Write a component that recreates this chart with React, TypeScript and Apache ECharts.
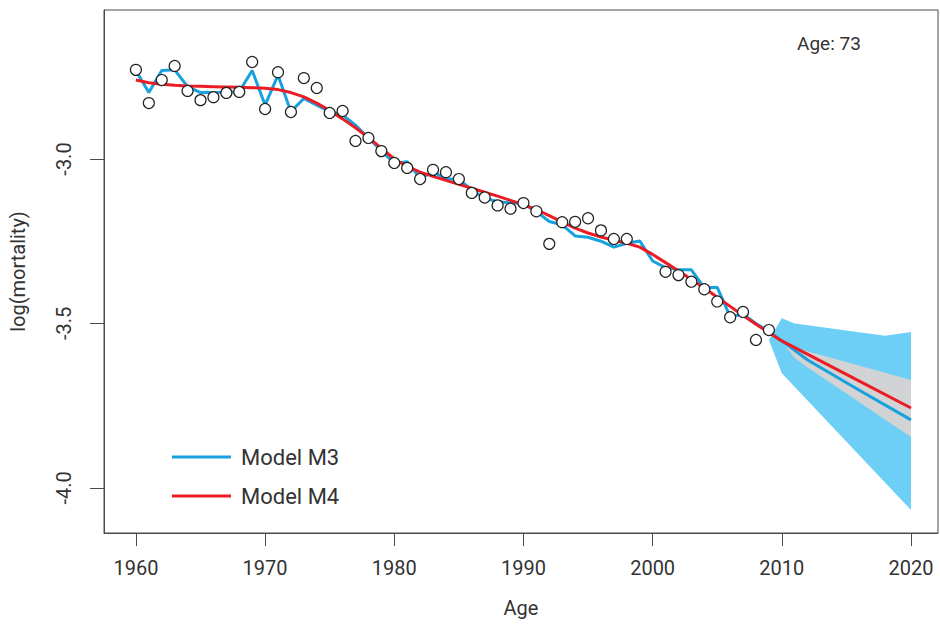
import React, { useEffect, useRef } from "react";
import * as echarts from "echarts";

// Observed log mortality at age 73, by calendar year (null = no point shown)
const obsYears = [
  1960, 1961, 1962, 1963, 1964, 1965, 1966, 1967, 1968, 1969,
  1970, 1971, 1972, 1973, 1974, 1975, 1976, 1977, 1978, 1979,
  1980, 1981, 1982, 1983, 1984, 1985, 1986, 1987, 1988, 1989,
  1990, 1991, 1992, 1993, 1994, 1995, 1996, 1997, 1998, 1999,
  2000, 2001, 2002, 2003, 2004, 2005, 2006, 2007, 2008, 2009,
];
const observed: (number | null)[] = [
  -2.729, -2.83, -2.76, -2.717, -2.793, -2.821, -2.812, -2.799, -2.796, -2.705,
  -2.848, -2.736, -2.857, -2.754, -2.784, -2.86, -2.854, -2.945, -2.936, -2.976,
  -3.012, -3.027, -3.061, -3.033, -3.04, -3.061, -3.103, -3.117, -3.141, -3.151,
  -3.134, -3.159, -3.258, -3.192, -3.191, -3.18, -3.217, -3.243, -3.243, null,
  null, -3.343, -3.353, -3.373, -3.396, -3.433, -3.481, -3.465, -3.55, -3.52,
];

// Model M3 fitted values (same years as obsYears)
const m3Fitted = [
  -2.731, -2.798, -2.731, -2.729, -2.78, -2.798, -2.798, -2.797, -2.795, -2.731,
  -2.836, -2.745, -2.856, -2.816, -2.836, -2.856, -2.866, -2.897, -2.936, -2.975,
  -3.013, -3.008, -3.059, -3.039, -3.06, -3.062, -3.094, -3.119, -3.13, -3.133,
  -3.135, -3.16, -3.19, -3.2, -3.234, -3.238, -3.25, -3.268, -3.256, -3.249,
  -3.31, -3.33, -3.337, -3.337, -3.392, -3.39, -3.479, -3.472, -3.5, -3.525,
];
// Model M4 fitted values (same years as obsYears)
const m4Fitted = [
  -2.76, -2.768, -2.773, -2.776, -2.778, -2.779, -2.78, -2.781, -2.782, -2.783,
  -2.785, -2.789, -2.798, -2.811, -2.83, -2.853, -2.878, -2.905, -2.935, -2.967,
  -3.0, -3.022, -3.04, -3.053, -3.065, -3.077, -3.089, -3.101, -3.113, -3.126,
  -3.139, -3.154, -3.172, -3.192, -3.21, -3.225, -3.237, -3.247, -3.256, -3.268,
  -3.29, -3.315, -3.34, -3.366, -3.392, -3.42, -3.448, -3.476, -3.502, -3.528,
];

// Central projections
const m3ForecastYears = [2010, 2012, 2016, 2020];
const m3Forecast = [-3.553, -3.611, -3.703, -3.793];
const m4ForecastYears = [2010, 2015, 2020];
const m4Forecast = [-3.553, -3.655, -3.757];

// Prediction intervals: upper and lower edges as [year, value]
const m3BandUpper: [number, number][] = [
  [2009, -3.55], [2010, -3.484], [2011, -3.5], [2018, -3.537], [2020, -3.526],
];
const m3BandLower: [number, number][] = [
  [2009, -3.55], [2010, -3.651], [2020, -4.067],
];
const m4BandUpper: [number, number][] = [
  [2010, -3.553], [2011, -3.574], [2020, -3.672],
];
const m4BandLower: [number, number][] = [
  [2010, -3.553], [2011, -3.605], [2012, -3.634], [2020, -3.845],
];

const xTicks = [1960, 1970, 1980, 1990, 2000, 2010, 2020];
const yTicks = [-4.0, -3.5, -3.0];

const FONT = "Roboto";
const BLUE = "#17a1df";
const RED = "#ec1c24";
const BAND_BLUE = "#6dcff6";
const BAND_GREY = "#d1d3d4";

function bandSeries(name: string, upper: [number, number][], lower: [number, number][], fill: string) {
  return {
    type: "custom",
    name,
    silent: true,
    data: [upper[0]],
    encode: { x: 0, y: 1 },
    renderItem: (_params: any, api: any) => {
      const pts = upper
        .map((p) => api.coord(p))
        .concat(lower.slice().reverse().map((p) => api.coord(p)));
      return {
        type: "polygon",
        shape: { points: pts },
        style: { fill },
      };
    },
    z: 1,
  };
}

export default function App() {
  const ref = useRef<HTMLDivElement>(null);

  useEffect(() => {
    if (!ref.current) return;
    const chart = echarts.init(ref.current, undefined, { renderer: "svg" });

    const m3Data = obsYears
      .map((y, i) => [y, m3Fitted[i]])
      .concat(m3ForecastYears.map((y, i) => [y, m3Forecast[i]]));
    const m4Data = obsYears
      .map((y, i) => [y, m4Fitted[i]])
      .concat(m4ForecastYears.map((y, i) => [y, m4Forecast[i]]));

    const obsData = obsYears
      .map((y, i) => [y, observed[i]])
      .filter((d) => d[1] !== null);

    chart.setOption({
      animation: false,
      backgroundColor: "#ffffff",
      textStyle: { fontFamily: FONT },
      grid: {
        left: 103,
        top: 10,
        right: 2,
        bottom: 92,
        show: true,
        borderColor: "#4a4a4a",
        borderWidth: 1,
        backgroundColor: "transparent",
      },
      xAxis: {
        type: "value",
        min: 1957.53,
        max: 2022.09,
        name: "Age",
        nameLocation: "middle",
        nameGap: 65,
        nameTextStyle: { fontFamily: FONT, fontSize: 20, color: "#333" },
        axisLine: { show: true, lineStyle: { color: "#4a4a4a", width: 1 } },
        axisTick: {
          show: true,
          length: 13,
          customValues: xTicks,
          lineStyle: { color: "#4a4a4a" },
        },
        axisLabel: {
          customValues: xTicks,
          margin: 25,
          fontFamily: FONT,
          fontSize: 20,
          color: "#333",
          formatter: (v: number) => String(v),
        },
        splitLine: { show: false },
      },
      yAxis: {
        type: "value",
        min: -4.137,
        max: -2.547,
        name: "log(mortality)",
        nameLocation: "middle",
        nameRotate: 90,
        nameGap: 76,
        nameTextStyle: { fontFamily: FONT, fontSize: 20, color: "#333" },
        axisLine: { show: true, lineStyle: { color: "#4a4a4a", width: 1 } },
        axisTick: {
          show: true,
          length: 14,
          customValues: yTicks,
          lineStyle: { color: "#4a4a4a" },
        },
        axisLabel: {
          customValues: yTicks,
          rotate: 90,
          margin: 30,
          fontFamily: FONT,
          fontSize: 20,
          color: "#333",
          formatter: (v: number) => v.toFixed(1),
        },
        splitLine: { show: false },
      },
      legend: {
        data: [
          { name: "Model M3", icon: "rect" },
          { name: "Model M4", icon: "rect" },
        ],
        orient: "vertical",
        left: 167,
        top: 440,
        itemWidth: 59,
        itemHeight: 3,
        itemGap: 15,
        textStyle: {
          fontFamily: FONT,
          fontSize: 22,
          color: "#333",
          lineHeight: 24,
          padding: [0, 0, 0, 5],
        },
        selectedMode: false,
      },
      graphic: [
        {
          type: "text",
          left: 797,
          top: 34,
          style: {
            text: "Age: 73",
            fontFamily: FONT,
            fontSize: 19,
            fill: "#333",
          },
        },
      ],
      series: [
        bandSeries("M3 interval", m3BandUpper, m3BandLower, BAND_BLUE),
        bandSeries("M4 interval", m4BandUpper, m4BandLower, BAND_GREY),
        {
          type: "line",
          name: "Model M3",
          data: m3Data,
          showSymbol: false,
          symbol: "none",
          lineStyle: { color: BLUE, width: 3 },
          itemStyle: { color: BLUE },
          z: 3,
        },
        {
          type: "line",
          name: "Model M4",
          data: m4Data,
          showSymbol: false,
          symbol: "none",
          lineStyle: { color: RED, width: 3 },
          itemStyle: { color: RED },
          z: 4,
        },
        {
          type: "scatter",
          name: "Observed",
          data: obsData,
          symbol: "circle",
          symbolSize: 11,
          itemStyle: {
            color: "#ffffff",
            opacity: 1,
            borderColor: "#222",
            borderWidth: 1.2,
          },
          z: 5,
        },
      ],
    });

    return () => chart.dispose();
  }, []);

  return (
    <div
      ref={ref}
      style={{ position: "absolute", left: 0, top: 0, width: 940, height: 625 }}
    />
  );
}
